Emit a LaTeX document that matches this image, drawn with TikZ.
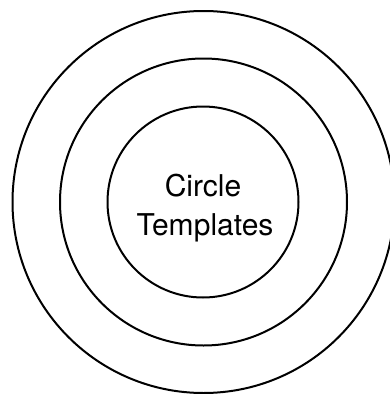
\documentclass[tikz,border=0pt]{standalone}
\usepackage{fontspec}
\setmainfont{TeX Gyre Heros}
\begin{document}
\begin{tikzpicture}[x=1pt,y=-1pt,
  ring/.style={draw=black,line width=2pt,circle,inner sep=0pt,fill=none},
  lbl/.style={font=\fontsize{30}{39}\selectfont,inner sep=0pt,anchor=base}]
\useasboundingbox (0,0) rectangle (390,394);
\clip (0,0) rectangle (390,394);
\fill[white] (0,0) rectangle (390,394);
\node[ring,minimum size=382pt] (outer) at (203.5,202) {};
\node[ring,minimum size=287pt] (middle) at (203.5,202) {};
\node[ring,minimum size=191pt] (inner) at (203,202) {};
\node[lbl] (l1) at (203,196) {Circle};
\node[lbl] (l2) at (205,235) {Templates};
\end{tikzpicture}
\end{document}
